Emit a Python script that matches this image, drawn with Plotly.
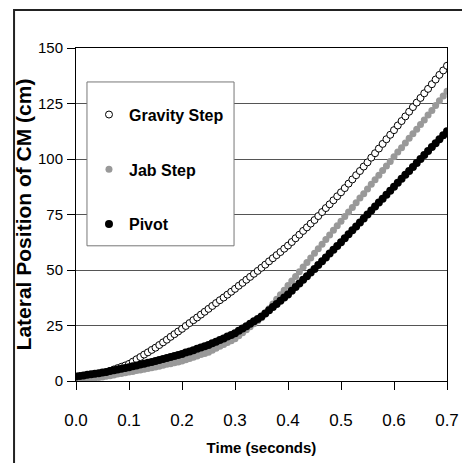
import plotly.graph_objects as go

# sampling grid: 7 samples per 0.05 s
time_s = [round(i * 0.05 / 7, 5) for i in range(99)]

gravity_step = [
    1.5, 1.7, 2.0, 2.2, 2.5, 2.7, 3.0,
    3.3, 3.9, 4.5, 5.2, 5.8, 6.4, 7.0,
    7.7, 8.7, 9.8, 10.8, 11.9, 12.9, 14.0,
    15.0, 16.2, 17.4, 18.6, 19.9, 21.1, 22.3,
    23.5, 24.8, 26.1, 27.4, 28.6, 29.9, 31.2,
    32.5, 33.8, 35.1, 36.4, 37.6, 38.9, 40.2,
    41.5, 42.9, 44.2, 45.6, 46.9, 48.3, 49.6,
    51.0, 52.4, 53.9, 55.3, 56.7, 58.1, 59.6,
    61.0, 62.6, 64.3, 65.9, 67.6, 69.2, 70.9,
    72.5, 74.3, 76.1, 77.9, 79.6, 81.4, 83.2,
    85.0, 86.9, 88.9, 90.8, 92.7, 94.6, 96.6,
    98.5, 100.6, 102.6, 104.7, 106.8, 108.9, 110.9,
    113.0, 115.1, 117.1, 119.2, 121.3, 123.4, 125.4,
    127.5, 129.6, 131.6, 133.7, 135.8, 137.9, 139.9,
    142.0,
]

jab_step = [
    0.3, 0.5, 0.7, 0.9, 1.2, 1.4, 1.6,
    1.8, 2.1, 2.4, 2.7, 3.1, 3.4, 3.7,
    4.0, 4.3, 4.7, 5.0, 5.3, 5.6, 6.0,
    6.3, 6.7, 7.1, 7.5, 7.8, 8.2, 8.6,
    9.0, 9.6, 10.1, 10.7, 11.3, 11.9, 12.4,
    13.0, 13.9, 14.7, 15.6, 16.4, 17.3, 18.1,
    19.0, 20.4, 21.7, 23.1, 24.4, 25.8, 27.1,
    28.5, 30.6, 32.6, 34.7, 36.8, 38.9, 40.9,
    43.0, 45.1, 47.1, 49.2, 51.3, 53.4, 55.4,
    57.5, 59.6, 61.6, 63.7, 65.8, 67.9, 69.9,
    72.0, 74.1, 76.1, 78.2, 80.3, 82.4, 84.4,
    86.5, 88.6, 90.6, 92.7, 94.8, 96.9, 98.9,
    101.0, 103.1, 105.1, 107.2, 109.3, 111.4, 113.4,
    115.5, 117.6, 119.8, 121.9, 124.1, 126.2, 128.4,
    130.5,
]

pivot = [
    2.0, 2.3, 2.5, 2.8, 3.0, 3.3, 3.5,
    3.8, 4.1, 4.5, 4.8, 5.2, 5.5, 5.9,
    6.2, 6.6, 7.0, 7.4, 7.8, 8.2, 8.6,
    9.0, 9.5, 9.9, 10.4, 10.8, 11.3, 11.7,
    12.2, 12.8, 13.3, 13.9, 14.5, 15.1, 15.6,
    16.2, 17.0, 17.7, 18.5, 19.2, 20.0, 20.7,
    21.5, 22.6, 23.6, 24.7, 25.8, 26.9, 27.9,
    29.0, 30.4, 31.9, 33.3, 34.7, 36.1, 37.6,
    39.0, 40.6, 42.3, 43.9, 45.6, 47.2, 48.9,
    50.5, 52.2, 53.9, 55.6, 57.4, 59.1, 60.8,
    62.5, 64.3, 66.1, 67.9, 69.6, 71.4, 73.2,
    75.0, 76.8, 78.6, 80.4, 82.1, 83.9, 85.7,
    87.5, 89.3, 91.1, 92.9, 94.6, 96.4, 98.2,
    100.0, 101.8, 103.6, 105.4, 107.1, 108.9, 110.7,
    112.5,
]

x_tick_vals = [0.0, 0.1, 0.2, 0.3, 0.4, 0.5, 0.6, 0.7]
x_tick_text = ["0.0", "0.1", "0.2", "0.3", "0.4", "0.5", "0.6", "0.7"]
y_tick_vals = [0, 25, 50, 75, 100, 125, 150]

FONT = "Liberation Sans, Arial, sans-serif"

fig = go.Figure()
fig.add_trace(go.Scatter(
    x=time_s, y=gravity_step, mode="markers", name="Gravity Step",
    legendgroup="g1",
    marker=dict(symbol="circle", size=7, color="white",
                line=dict(color="black", width=1)),
))
fig.add_trace(go.Scatter(
    x=time_s, y=jab_step, mode="markers", name="Jab Step",
    legendgroup="g2",
    marker=dict(symbol="circle", size=7, color="#999999", line=dict(width=0)),
))
fig.add_trace(go.Scatter(
    x=time_s, y=pivot, mode="markers", name="Pivot",
    legendgroup="g3",
    marker=dict(symbol="circle", size=8, color="black", line=dict(width=0)),
))

fig.update_layout(
    width=462, height=463,
    margin=dict(l=76, r=15, t=48, b=81.5, autoexpand=False),
    paper_bgcolor="white", plot_bgcolor="white",
    font=dict(family=FONT, color="black", size=15),
    showlegend=True,
    legend=dict(
        x=0.035, y=0.851, xanchor="left", yanchor="top",
        bgcolor="rgba(0,0,0,0)", borderwidth=0,
        tracegroupgap=31,
        font=dict(family=FONT, size=16, color="black", weight="bold"),
        itemsizing="trace",
    ),
    xaxis=dict(
        range=[0, 0.7], tickvals=x_tick_vals, ticktext=x_tick_text,
        ticks="outside", ticklen=8, tickcolor="black", tickwidth=1,
        ticklabelstandoff=16,
        showline=True, linecolor="black", linewidth=1, mirror=True,
        showgrid=False, zeroline=False,
        tickfont=dict(family=FONT, size=17, color="black"),
        title=dict(text="Time (seconds)", standoff=13,
                   font=dict(family=FONT, size=15, color="black", weight="bold")),
    ),
    yaxis=dict(
        range=[0, 150], tickvals=y_tick_vals,
        ticks="outside", ticklen=8, tickcolor="black", tickwidth=1,
        ticklabelstandoff=1,
        showline=True, linecolor="black", linewidth=1, mirror=True,
        showgrid=True, gridcolor="#555555", gridwidth=1, zeroline=False,
        tickfont=dict(family=FONT, size=15, color="black"),
        title=dict(text="Lateral Position of CM (cm)", standoff=0,
                   font=dict(family=FONT, size=21, color="black", weight="bold")),
    ),
    shapes=[
        # legend box
        dict(type="rect", xref="paper", yref="paper", layer="above",
             x0=0.0296, x1=0.426, y0=0.406, y1=0.898,
             fillcolor="white", line=dict(color="#777777", width=1)),
        # outer chart frame
        dict(type="rect", xref="paper", yref="paper", layer="above",
             x0=-0.167, x1=1.3, y0=-0.4, y1=1.114,
             fillcolor="rgba(0,0,0,0)", line=dict(color="#222222", width=2)),
    ],
)

fig.write_html("out.html",
               config={"displayModeBar": False},
               post_script="document.body.style.margin='0px';"
                           "document.body.style.overflow='hidden';")
